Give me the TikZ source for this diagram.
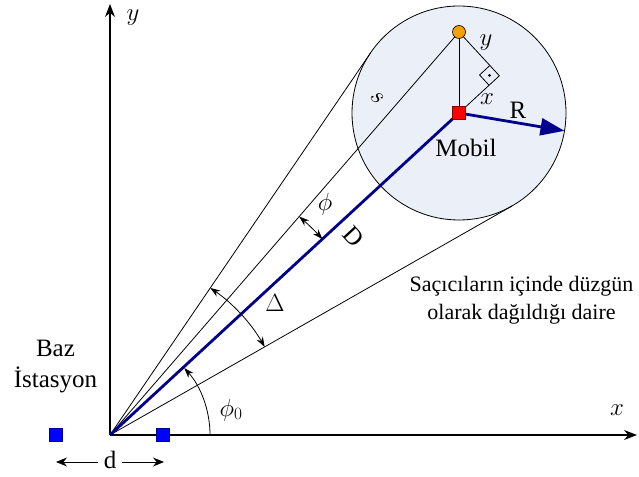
\documentclass[tikz,border=0pt]{standalone}
\usepackage[no-math]{fontspec}
\setmainfont{Liberation Serif}
\usetikzlibrary{arrows.meta,calc}
\definecolor{circfill}{RGB}{235,240,248}
\definecolor{navyc}{RGB}{0,0,140}
\definecolor{orangec}{RGB}{245,160,0}
\begin{document}
\begin{tikzpicture}[x=1pt,y=1pt,
  thinline/.style={line width=0.8pt, draw=black},
  axis/.style={line width=1.1pt, -{Stealth[length=13pt,width=10pt]}},
  navyline/.style={draw=navyc, line width=2.8pt},
  angarc/.style={line width=0.8pt, >={Stealth[length=10pt,width=7pt]}},
  txt/.style={font=\fontsize{22}{27}\selectfont, inner sep=0pt},
  bigtxt/.style={font=\fontsize{25}{31}\selectfont, inner sep=0pt},
  mathlbl/.style={font=\fontsize{25}{30}\selectfont, inner sep=0pt},
  bsq/.style={draw=blue!60!black, fill=blue, minimum size=13pt, inner sep=0pt, line width=0.6pt}
]
\useasboundingbox (0,0) rectangle (639,476);
\coordinate (O) at (110,41);
\coordinate (M) at (459,363);
\coordinate (S) at (459,444);
\coordinate (ytop) at (110,472);
\coordinate (xend) at (637,41);
% disc
\node[circle, draw, fill=circfill, minimum size=214pt, inner sep=0pt, outer sep=0pt, line width=0.8pt] (circ) at (M) {};
\coordinate (T1) at ($(O)+(55.71:462.6)$);
\coordinate (T2) at ($(O)+(29.67:462.6)$);
% axes
\draw[axis] (O) -- (ytop);
\draw[axis] (O) -- (xend);
% rays
\draw[thinline] (O) -- (T1);
\draw[thinline] (O) -- (T2);
\draw[thinline] (O) -- (S);
\draw[thinline] (S) -- (M);
\coordinate (P) at ($(M)+(42.69:54.9)$);
\draw[thinline] (S) -- (P) -- (M);
\coordinate (RA) at ($(P)+(222.69:14)$);
\coordinate (RB) at ($(P)+(222.69:14)+(132.69:14)$);
\coordinate (RC) at ($(P)+(132.69:14)$);
\draw[thinline] (RA) -- (RB) -- (RC);
\fill ($(P)+(222.69:7)+(132.69:7)$) circle (1.5pt);
% D and R
\draw[navyline] (O) -- (M);
\coordinate (Rend) at ($(M)+(-9.6:107)$);
\draw[navyline, -{Triangle[length=24pt,width=17pt]}] (M) -- (Rend);
% angle arcs
\draw[angarc, <->] ($(O)+(55.71:178)$) arc[start angle=55.71, end angle=29.67, radius=178];
\draw[angarc, <->] ($(O)+(49.1:289)$) arc[start angle=49.1, end angle=42.69, radius=289];
\draw[angarc, ->] ($(O)+(0:100)$) arc[start angle=0, end angle=42, radius=100];
% markers
\node[draw=red!55!black, fill=red, minimum size=13pt, inner sep=0pt, line width=0.6pt] (mob) at (M) {};
\node[circle, draw=black, fill=orangec, minimum size=13pt, inner sep=0pt, line width=0.6pt] (sc) at (S) {};
\node[bsq] (bs1) at (56,41) {};
\node[bsq] (bs2) at (163,41) {};
% d arrows
\node[bigtxt, inner sep=6pt] (dlab) at (110,16) {d};
\coordinate (dl) at (56,14);
\coordinate (dr) at (164,14);
\draw[line width=0.9pt, -{Stealth[length=11pt,width=9pt]}] (dlab.west |- dl) -- (dl);
\draw[line width=0.9pt, -{Stealth[length=11pt,width=9pt]}] (dlab.east |- dr) -- (dr);
% labels
\node[mathlbl] (yax) at (133,458) {$y$};
\node[mathlbl] (xax) at (617,66) {$x$};
\node[mathlbl] (philab) at (325,272) {$\phi$};
\node[mathlbl] (Deltalab) at (275,173) {$\Delta$};
\node[mathlbl] (phi0lab) at (231,66) {$\phi_0$};
\node[bigtxt, rotate=-47.3] (Dlab) at (354,239) {D};
\node[mathlbl, rotate=-45] (slab) at (377,378) {$s$};
\node[mathlbl] (ylab) at (486,433) {$y$};
\node[mathlbl] (xlab) at (487,377) {$x$};
\node[bigtxt] (Rlab) at (518,366) {R};
\node[bigtxt, anchor=base] (moblab) at (466,319) {Mobil};
\node[bigtxt, anchor=base] (baz) at (55.5,119) {Baz};
\node[bigtxt, anchor=base] (ist) at (55.5,88) {İstasyon};
\node[txt, anchor=base] (sac1) at (521.5,184) {Saçıcıların içinde düzgün};
\node[txt, anchor=base] (sac2) at (521.5,156) {olarak dağıldığı daire};
\end{tikzpicture}
\end{document}
